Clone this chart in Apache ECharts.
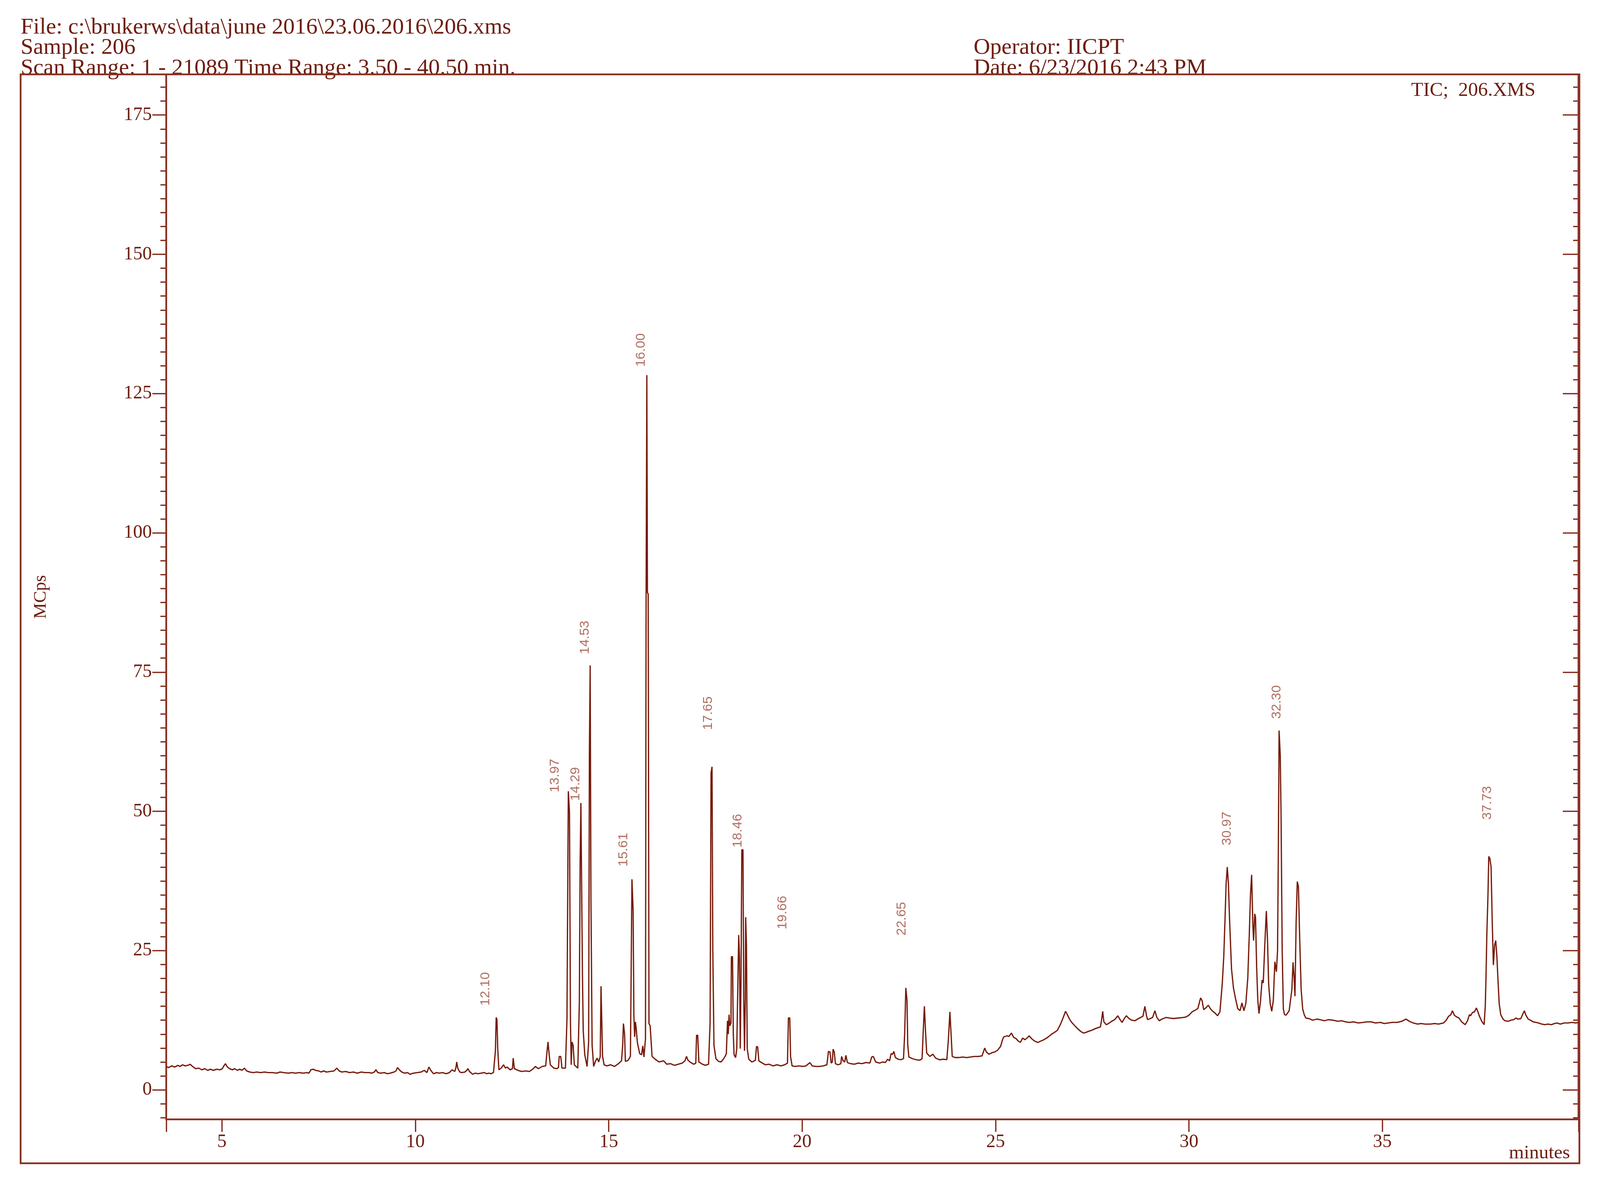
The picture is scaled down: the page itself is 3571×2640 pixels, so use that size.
<!DOCTYPE html>
<html>
<head>
<meta charset="utf-8">
<script src="https://cdn.jsdelivr.net/npm/echarts@6/dist/echarts.min.js"></script>
<style>
html,body{margin:0;padding:0;background:#fff;}
#chart{width:3571px;height:2640px;}
</style>
</head>
<body>
<div id="chart"></div>
<script>
// ---------- DATA ----------
const ticTime = [
3.56,3.62,3.7,3.78,3.86,3.92,3.98,4.05,4.12,4.18,4.24,4.32,4.4,4.48,4.56,4.63,4.7,4.78,4.86,4.95,
5.01,5.05,5.09,5.14,5.2,5.27,5.33,5.4,5.46,5.52,5.58,5.64,5.72,5.81,5.9,6.0,6.1,6.2,6.3,6.42,
6.5,6.6,6.72,6.8,6.9,7.0,7.1,7.2,7.25,7.3,7.36,7.42,7.5,7.56,7.63,7.7,7.8,7.9,7.97,8.03,
8.1,8.2,8.3,8.4,8.5,8.6,8.7,8.8,8.88,8.94,8.98,9.03,9.1,9.2,9.27,9.35,9.45,9.5,9.54,9.6,
9.65,9.72,9.8,9.86,9.95,10.05,10.15,10.23,10.3,10.35,10.41,10.47,10.55,10.62,10.7,10.8,10.88,10.95,11.02,11.05,
11.07,11.1,11.15,11.2,11.28,11.33,11.36,11.4,11.48,11.55,11.62,11.7,11.78,11.84,11.9,11.96,12.02,
12.07,12.09,12.11,12.13,12.16,12.22,12.28,12.33,12.37,12.45,12.51,12.53,12.56,12.65,12.75,12.85,12.95,13.05,13.1,13.18,
13.28,13.37,13.4,13.43,13.46,13.49,13.58,13.66,13.7,13.72,13.76,13.79,13.88,13.92,13.955,13.985,14.01,14.03,14.05,14.08,
14.11,14.2,14.24,14.26,14.28,14.3,14.32,14.34,14.38,14.44,14.48,14.5,14.52,14.54,14.57,14.61,14.66,14.7,14.74,14.78,
14.8,14.82,14.84,14.88,14.95,15.05,15.15,15.25,15.33,15.36,15.38,15.41,15.43,15.5,15.56,15.58,15.6,15.63,15.65,15.67,
15.69,15.71,15.74,15.8,15.85,15.88,15.91,15.95,15.965,15.985,16.0,16.02,16.04,16.07,16.12,16.2,16.3,16.42,16.5,16.6,
16.7,16.8,16.9,16.97,17.01,17.05,17.12,17.2,17.25,17.27,17.3,17.33,17.42,17.5,17.58,17.62,17.645,17.67,17.69,17.72,
17.77,17.84,17.9,17.95,18.0,18.04,18.07,18.09,18.11,18.13,18.16,18.17,18.2,18.22,18.24,18.28,18.31,18.33,18.36,18.38,
18.4,18.42,18.44,18.47,18.49,18.51,18.53,18.54,18.56,18.58,18.62,18.7,18.79,18.82,18.85,18.88,18.95,19.05,19.15,19.25,
19.35,19.45,19.55,19.62,19.645,19.68,19.7,
19.74,19.82,19.92,20.02,20.1,20.2,20.26,20.35,20.45,20.55,20.64,20.68,20.72,20.75,20.78,20.8,20.83,20.86,20.93,21.0,
21.02,21.06,21.1,21.13,21.17,21.25,21.35,21.45,21.55,21.65,21.75,21.8,21.84,21.9,22.0,22.08,22.15,22.21,22.26,22.3,
22.34,22.37,22.41,22.48,22.55,22.62,22.65,22.68,22.71,22.73,22.76,22.85,22.95,23.04,23.1,23.13,23.16,23.19,23.22,23.3,
23.38,23.45,23.55,23.65,23.74,23.78,23.82,23.85,23.88,23.95,24.05,24.15,24.25,24.35,24.45,24.55,24.65,24.72,24.76,24.83,
24.92,24.98,25.05,25.13,25.18,25.21,25.3,25.35,25.41,25.47,25.53,25.58,25.64,25.7,25.76,25.83,25.87,25.93,26.0,26.09,
26.15,26.22,26.3,26.38,26.45,26.52,26.6,26.68,26.75,26.81,26.87,26.92,26.97,27.05,27.12,27.2,27.27,27.33,27.4,27.49,
27.55,27.62,27.71,27.74,27.77,27.8,27.86,27.92,28.0,28.08,28.16,28.22,28.27,28.32,28.38,28.45,28.52,28.6,28.67,28.75,
28.81,28.86,28.9,28.93,29.0,29.06,29.12,29.17,29.23,29.3,29.41,29.5,29.6,29.73,29.85,29.93,30.0,30.08,30.16,30.23,
30.3,30.34,30.38,30.45,30.5,30.55,30.6,30.67,30.74,30.8,30.86,30.9,30.93,30.96,30.99,31.02,31.05,31.1,31.15,31.2,
31.26,31.32,31.37,31.42,31.47,31.52,31.56,31.59,31.62,31.65,31.67,31.7,31.72,31.75,31.78,31.81,31.85,31.89,31.92,31.96,
32.0,32.03,32.06,32.1,32.14,32.18,32.22,32.26,32.29,32.31,32.33,32.36,32.38,32.41,32.44,32.47,32.51,32.59,32.66,32.69,
32.72,32.74,32.77,32.8,32.83,32.86,32.9,32.94,32.98,33.02,33.1,33.2,33.3,33.39,33.5,33.6,33.72,33.85,33.95,34.05,
34.15,34.25,34.38,34.5,34.6,34.71,34.82,34.95,35.05,35.15,35.25,35.38,35.5,35.61,35.7,35.8,35.91,36.0,36.1,36.24,
36.35,36.45,36.58,36.65,36.71,36.77,36.81,36.86,36.92,36.98,37.05,37.14,37.2,37.25,37.28,37.33,37.38,37.43,37.47,37.51,
37.57,37.63,37.66,37.68,37.7,37.73,37.75,37.78,37.81,37.84,37.87,37.9,37.93,37.96,37.99,38.02,38.06,38.12,38.17,38.25,
38.32,38.4,38.45,38.5,38.58,38.63,38.67,38.71,38.77,38.83,38.9,38.97,39.04,39.12,39.2,39.28,39.37,39.45,39.52,39.6,
39.7,39.8,39.9,40.0,40.07
];
const ticMCps = [
4.2,4.0,4.3,4.1,4.4,4.2,4.5,4.3,4.4,4.6,4.2,3.8,3.9,3.6,3.8,3.5,3.7,3.5,3.7,3.6,
3.8,4.3,4.7,4.1,3.8,3.6,3.8,3.5,3.7,3.5,3.9,3.4,3.2,3.1,3.2,3.1,3.2,3.1,3.1,3.0,
3.2,3.1,3.0,3.1,3.0,3.1,3.0,3.1,3.0,3.6,3.7,3.5,3.4,3.2,3.4,3.2,3.3,3.4,3.9,3.4,
3.2,3.3,3.1,3.2,3.0,3.2,3.1,3.1,3.0,3.2,3.6,3.1,3.0,3.1,2.9,3.0,3.2,3.4,4.0,3.5,
3.2,3.0,3.1,2.8,3.0,3.1,3.2,3.5,3.1,4.1,3.4,2.9,3.1,3.0,3.1,2.9,3.1,3.6,3.3,4.0,
5.0,3.8,3.2,3.1,3.2,3.5,3.8,3.3,2.8,3.0,2.9,3.0,3.1,2.9,3.0,2.9,3.1,
7.0,13.0,12.6,7.4,3.6,3.9,4.5,3.9,4.1,3.6,3.8,5.7,3.8,3.5,3.3,3.4,3.3,3.8,4.2,3.8,
4.2,4.3,6.6,8.6,6.3,4.5,3.9,3.8,4.0,6.0,6.0,3.9,3.9,12.7,53.6,49.8,12.4,4.5,8.6,8.0,
4.5,3.9,15.7,40.5,51.5,51.5,20.7,10.7,6.3,4.2,8.6,60.7,76.2,34.2,8.0,4.2,5.2,5.7,5.0,6.0,
18.6,18.6,6.0,4.5,4.3,4.5,4.2,4.7,5.2,8.0,11.9,10.0,5.1,5.3,6.0,21.6,37.8,32.2,13.3,9.5,
12.2,11.0,8.5,6.5,6.3,7.9,5.9,9.2,86.6,128.3,89.3,89.0,11.9,11.5,6.0,5.5,5.0,5.2,4.6,4.7,
4.4,4.6,4.8,5.2,6.0,5.3,4.9,4.6,4.8,9.8,9.8,5.0,4.6,4.4,4.6,12.0,56.9,58.0,25.1,8.0,
5.6,5.1,5.0,5.4,5.9,6.5,12.4,10.0,13.5,11.5,12.0,23.9,23.9,10.0,6.3,5.8,7.4,16.0,27.8,23.9,
7.4,20.0,43.1,43.1,16.3,7.0,16.2,31.0,26.0,7.4,5.5,5.0,5.3,7.8,7.7,5.2,4.9,4.5,4.6,4.3,
4.5,4.3,4.5,4.8,12.9,12.9,6.0,
4.3,4.2,4.3,4.2,4.3,4.9,4.3,4.2,4.2,4.3,4.5,6.9,6.8,4.8,5.0,7.3,6.8,4.7,4.5,4.7,
6.0,5.2,5.0,6.2,4.9,4.7,4.6,4.8,4.7,4.9,4.8,5.9,6.0,5.0,4.8,5.0,4.9,5.5,5.2,6.5,
6.4,6.9,5.8,5.5,5.4,5.6,10.0,18.3,16.1,8.0,5.9,5.6,5.4,5.3,5.6,10.5,15.0,10.4,6.6,6.0,
6.4,5.7,5.4,5.5,5.4,9.0,14.0,10.0,6.0,5.8,5.8,5.9,5.8,5.9,6.0,6.0,6.1,7.5,6.8,6.4,
6.7,6.8,7.1,7.8,9.0,9.5,9.7,9.6,10.2,9.4,9.2,8.8,8.5,9.3,9.0,9.4,9.7,9.2,8.8,8.5,
8.7,8.9,9.2,9.6,10.0,10.3,10.7,11.8,13.0,14.1,13.3,12.6,12.1,11.5,11.0,10.5,10.2,10.3,10.5,10.7,
10.9,11.1,11.3,12.5,14.1,12.2,11.7,11.9,12.3,12.6,13.3,12.6,12.1,12.7,13.3,12.8,12.5,12.4,12.7,13.0,
13.2,15.0,13.4,12.6,12.8,13.0,14.2,13.0,12.4,12.7,13.0,12.9,12.8,12.9,13.0,13.1,13.4,14.0,14.3,14.6,
16.5,16.0,14.4,14.8,15.2,14.6,14.2,13.8,13.3,14.0,19.0,24.0,30.2,37.0,40.0,37.0,30.5,21.7,18.3,16.5,
14.6,14.2,15.6,14.2,15.5,20.0,28.0,35.0,38.6,30.0,26.8,31.6,31.0,22.0,16.0,13.7,16.0,19.7,19.2,26.0,
32.1,27.0,19.0,15.5,14.1,16.0,23.0,21.2,25.0,42.4,64.5,60.0,49.7,25.0,14.5,13.5,13.4,14.2,18.0,22.9,
20.0,16.8,30.0,37.4,36.5,27.8,18.0,14.5,13.5,12.9,12.8,12.5,12.7,12.6,12.4,12.6,12.5,12.3,12.4,12.2,
12.1,12.2,12.0,12.1,12.2,12.2,12.0,12.1,11.9,12.0,12.1,12.1,12.3,12.7,12.3,12.0,11.8,11.9,11.8,11.8,
11.9,11.8,12.0,12.5,13.2,13.5,14.2,13.4,13.1,12.9,12.2,11.7,12.4,13.5,13.3,13.9,14.0,14.7,14.0,13.2,
12.3,11.7,15.0,20.5,27.8,35.0,41.9,41.5,40.0,30.2,22.4,25.9,26.8,24.0,19.5,15.5,13.5,12.7,12.4,12.3,
12.5,12.6,12.9,12.7,12.8,13.6,14.2,13.4,12.7,12.5,12.2,12.1,12.0,11.8,11.7,11.8,11.7,11.9,12.0,11.8,
12.0,12.0,12.1,12.0,12.1
];
const peakNames = ['12.10','13.97','14.29','14.53','15.61','16.00','17.65','18.46','19.66','22.65','30.97','32.30','37.73'];
const peakLabelTime = [11.81,13.61,14.14,14.39,15.38,15.84,17.57,18.34,19.49,22.58,30.99,32.27,37.71];
const peakLabelMCps = [15.1,53.4,51.9,78.2,40.1,129.8,64.6,43.5,28.8,27.7,43.9,66.6,48.5];

const xTickLabels = [5,10,15,20,25,30,35];
const yTickLabels = [0,25,50,75,100,125,150,175];
const yMinorTicks = [-5,-2.5,0,2.5,5,7.5,10,12.5,15,17.5,20,22.5,25,27.5,30,32.5,35,37.5,40,42.5,45,47.5,50,52.5,55,57.5,60,62.5,65,67.5,70,72.5,75,77.5,80,82.5,85,87.5,90,92.5,95,97.5,100,102.5,105,107.5,110,112.5,115,117.5,120,122.5,125,127.5,130,132.5,135,137.5,140,142.5,145,147.5,150,152.5,155,157.5,160,162.5,165,167.5,170,172.5,175,177.5,180];
const X_MIN = 3.56, X_MAX = 40.07;
const Y_MIN = -5.3, Y_MAX = 182.3;

// ---------- STYLE ----------
const LINE = '#8a3526';
const TEXT = '#6e1c0f';
const TRACE = '#761909';
const PEAKTXT = '#9c4b3b';
const SERIF = '"Liberation Serif", "Times New Roman", serif';
const SANS = '"Liberation Sans", Arial, sans-serif';

const chart = echarts.init(document.getElementById('chart'), null, {renderer: 'canvas'});

function yAxisDef(pos, inside, vals, len, showLine, showLabel) {
  return {
    type: 'value', position: pos, min: Y_MIN, max: Y_MAX,
    axisLine: {show: showLine, onZero: false, lineStyle: {color: LINE, width: 4}},
    axisTick: {show: true, inside: inside, length: len, customValues: vals, lineStyle: {color: LINE, width: 3}},
    axisLabel: showLabel ? {show: true, customValues: yTickLabels, margin: 32, color: TEXT, fontFamily: SERIF, fontSize: 42} : {show: false},
    splitLine: {show: false}
  };
}

const option = {
  animation: false,
  backgroundColor: '#ffffff',
  grid: {left: 371, right: 48, top: 166, bottom: 142, containLabel: false},
  xAxis: {
    type: 'value', min: X_MIN, max: X_MAX,
    axisLine: {show: true, onZero: false, lineStyle: {color: LINE, width: 4}},
    axisTick: {show: true, length: 28, customValues: [X_MIN].concat(xTickLabels, [X_MAX]), lineStyle: {color: LINE, width: 3}},
    axisLabel: {show: true, customValues: xTickLabels, margin: 30, color: TEXT, fontFamily: SERIF, fontSize: 42},
    splitLine: {show: false}
  },
  yAxis: [
    yAxisDef('left', false, yTickLabels, 31, true, true),
    yAxisDef('left', false, yMinorTicks, 13, false, false),
    yAxisDef('right', true, yTickLabels, 35, true, false),
    yAxisDef('right', true, yMinorTicks, 12, false, false)
  ],
  series: [
    {
      type: 'line', xAxisIndex: 0, yAxisIndex: 0,
      data: ticTime.map((t, i) => [t, ticMCps[i]]),
      showSymbol: false, symbol: 'none', smooth: false,
      lineStyle: {color: TRACE, width: 2.8},
      z: 3
    },
    {
      type: 'scatter', xAxisIndex: 0, yAxisIndex: 0,
      symbolSize: 0,
      data: peakNames.map((n, i) => ({name: n, value: [peakLabelTime[i], peakLabelMCps[i]]})),
      label: {
        show: true, formatter: '{b}', position: 'inside', rotate: 90,
        align: 'left', verticalAlign: 'middle',
        color: PEAKTXT, fontFamily: SANS, fontSize: 30
      },
      z: 4
    }
  ],
  graphic: [
    {type: 'rect', shape: {x: 46, y: 166, width: 3479, height: 2430}, style: {fill: 'none', stroke: LINE, lineWidth: 4}, z: 1},
    {type: 'text', left: 46, top: 36, style: {text: 'File: c:\\brukerws\\data\\june 2016\\23.06.2016\\206.xms', fill: TEXT, font: '51px ' + SERIF}},
    {type: 'text', left: 46, top: 81, style: {text: 'Sample: 206', fill: TEXT, font: '51px ' + SERIF}},
    {type: 'text', left: 46, top: 127, style: {text: 'Scan Range: 1 - 21089 Time Range: 3.50 - 40.50 min.', fill: TEXT, font: '51px ' + SERIF}},
    {type: 'text', left: 2173, top: 81, style: {text: 'Operator: IICPT', fill: TEXT, font: '51px ' + SERIF}},
    {type: 'text', left: 2173, top: 127, style: {text: 'Date: 6/23/2016 2:43 PM', fill: TEXT, font: '51px ' + SERIF}},
    {type: 'text', right: 3571 - 3427, top: 180, style: {text: 'TIC;  206.XMS', fill: TEXT, font: '44px ' + SERIF}},
    {type: 'text', right: 3571 - 3504, top: 2552, style: {text: 'minutes', fill: TEXT, font: '43px ' + SERIF}},
    {type: 'text', x: 91, y: 1332, rotation: Math.PI / 2, style: {text: 'MCps', fill: TEXT, font: '40px ' + SERIF, textAlign: 'center', textVerticalAlign: 'middle'}}
  ]
};
chart.setOption(option);
</script>
</body>
</html>
